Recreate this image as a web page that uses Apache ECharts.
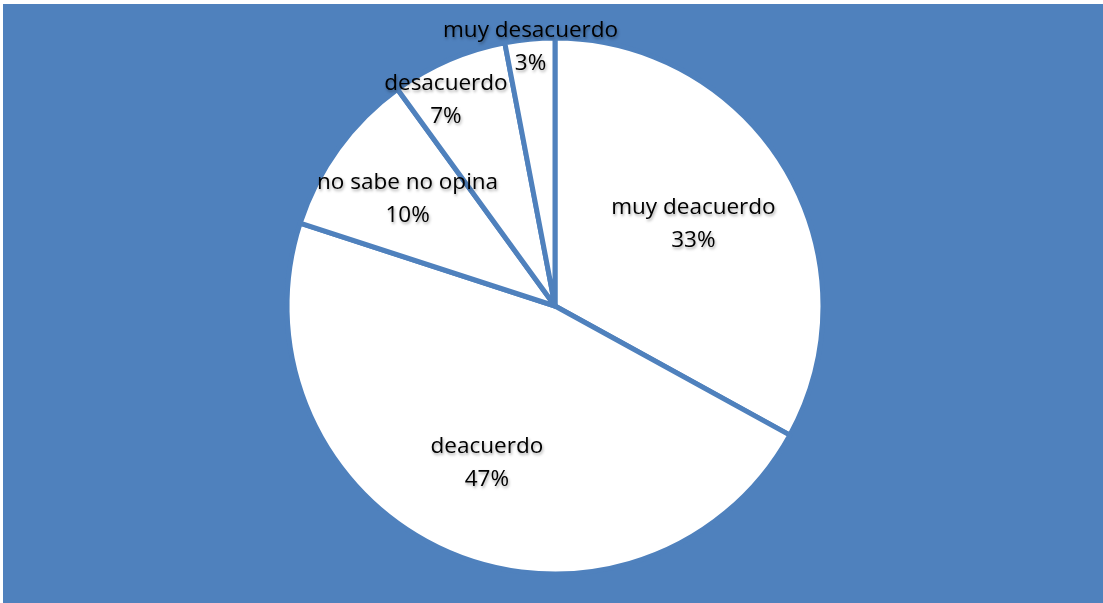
<!DOCTYPE html>
<html>
<head>
<meta charset="utf-8">
<script src="https://cdn.jsdelivr.net/npm/echarts@6/dist/echarts.min.js"></script>
<style>
  html, body { margin: 0; padding: 0; background: #ffffff; }
  #chart { position: absolute; left: 3px; top: 4px; width: 1100px; height: 599px; }
</style>
</head>
<body>
<div id="chart"></div>
<script>
// Survey answers, share of respondents (%)
const categories = ['muy deacuerdo', 'deacuerdo', 'no sabe no opina', 'desacuerdo', 'muy desacuerdo'];
const values = [33, 47, 10, 7, 3];

// Label placement: fraction of the radius, and a small turn (degrees) off the slice's middle angle
const labelRadiusFrac = [0.6, 0.64, 0.68, 0.87, 0.97];
const labelAngleShift = [0, 0, 0, -4.5, 0];

const BLUE = '#4f81bd';
const CX = 552, CY = 302, R = 268;

const total = values.reduce((a, b) => a + b, 0);
const midAngles = [];
let acc = 0;
values.forEach(v => {
  midAngles.push((acc + v / 2) / total * 2 * Math.PI);
  acc += v;
});

const chart = echarts.init(document.getElementById('chart'));
chart.setOption({
  backgroundColor: BLUE,
  animation: false,
  series: [{
    type: 'pie',
    center: [CX, CY],
    radius: [0, R],
    startAngle: 90,
    clockwise: true,
    data: categories.map((name, i) => ({ name, value: values[i] })),
    itemStyle: { color: '#ffffff', borderColor: BLUE, borderWidth: 5 },
    emphasis: { disabled: true },
    label: {
      show: true,
      position: 'inside',
      formatter: p => p.name + '\n' + Math.round(p.percent) + '%',
      color: '#000000',
      fontFamily: 'Open Sans',
      fontSize: 22.5,
      lineHeight: 33,
      align: 'center',
      textShadowColor: 'rgba(0,0,0,0.35)',
      textShadowBlur: 3,
      textShadowOffsetX: 1,
      textShadowOffsetY: 2
    },
    labelLine: { show: false },
    labelLayout: params => {
      const i = params.dataIndex;
      const r = R * labelRadiusFrac[i];
      const a = midAngles[i] + labelAngleShift[i] * Math.PI / 180;
      return {
        x: CX + r * Math.sin(a),
        y: CY - r * Math.cos(a),
        align: 'center',
        verticalAlign: 'middle'
      };
    }
  }]
});
</script>
</body>
</html>
